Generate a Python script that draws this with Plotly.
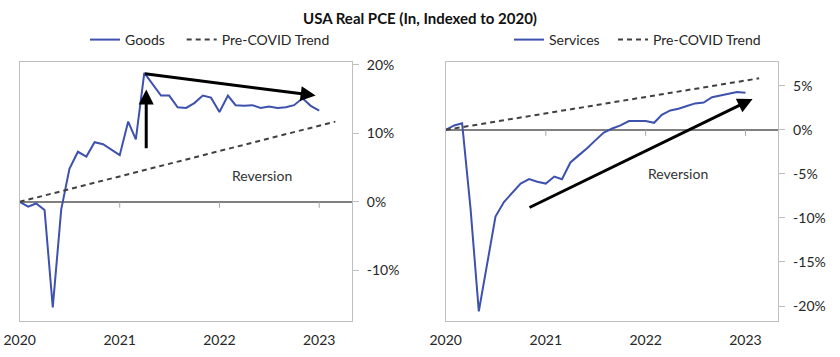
import plotly.graph_objects as go
import pandas as pd

# ---------------- data ----------------
months = pd.date_range("2020-01-01", "2023-01-01", freq="MS").strftime("%Y-%m-%d").tolist()

goods = [0, -0.7, -0.25, -1.2, -15.4, -1.1, 4.8, 7.3, 6.6, 8.7, 8.4, 7.6,
         6.8, 11.7, 9.1, 18.8, 17.2, 15.5, 15.5, 13.8, 13.7, 14.4, 15.5, 15.2,
         13.1, 15.5, 14.1, 14.0, 14.1, 13.7, 13.9, 13.7, 13.8, 14.1, 15.1, 14.0, 13.3]

services = [0, 0.5, 0.75, -9.0, -20.6, -15.2, -9.85, -8.2, -7.1, -6.1, -5.6, -5.9,
            -6.1, -5.3, -5.6, -3.7, -2.9, -2.1, -1.2, -0.3, 0.15, 0.5, 1.0, 1.0,
            1.0, 0.8, 1.7, 2.2, 2.4, 2.7, 3.0, 3.1, 3.7, 3.9, 4.1, 4.3, 4.2]

goods_trend_x = ["2020-01-01", "2023-03-01"]
goods_trend_y = [0, 11.7]
serv_trend_x = ["2020-01-01", "2023-02-20"]
serv_trend_y = [0, 5.85]

year_ticks = ["2020-01-01", "2021-01-01", "2022-01-01", "2023-01-01"]
year_labels = ["2020", "2021", "2022", "2023"]
goods_yticks = [-10, 0, 10, 20]
goods_ylabels = ["-10%", "0%", "10%", "20%"]
serv_yticks = [-20, -15, -10, -5, 0, 5]
serv_ylabels = ["-20%", "-15%", "-10%", "-5%", "0%", "5%"]

# arrows: (head_x, head_y, tail_x, tail_y)
goods_arrows = [("2021-04-08", 16.4, "2021-04-08", 7.6),
                ("2022-12-19", 15.5, "2021-03-29", 18.7)]
serv_arrows = [("2023-01-27", 3.5, "2020-10-28", -8.9)]
goods_label = ("2022-06-04", 3.9, "Reversion")
serv_label = ("2022-05-01", -4.9, "Reversion")

title = "USA Real PCE (In, Indexed to 2020)"

# ---------------- styling ----------------
FONT = "Lato"
BLUE = "#3d51ad"
DASH = "#404040"
FRAME = "#bfbfbf"
TXT = "#262626"

W, H = 840, 357


def px(sx):
    return sx / W


def py(sy):
    return 1 - sy / H


fig = go.Figure()

fig.add_trace(go.Scatter(x=months, y=goods, mode="lines", name="Goods",
                         line=dict(color=BLUE, width=2), xaxis="x", yaxis="y", legend="legend"))
fig.add_trace(go.Scatter(x=goods_trend_x, y=goods_trend_y, mode="lines", name="Pre-COVID Trend",
                         line=dict(color=DASH, width=2, dash="5px,4px"), xaxis="x", yaxis="y", legend="legend3"))
fig.add_trace(go.Scatter(x=months, y=services, mode="lines", name="Services",
                         line=dict(color=BLUE, width=2), xaxis="x2", yaxis="y2", legend="legend2"))
fig.add_trace(go.Scatter(x=serv_trend_x, y=serv_trend_y, mode="lines", name="Pre-COVID Trend",
                         line=dict(color=DASH, width=2, dash="5px,4px"), xaxis="x2", yaxis="y2", legend="legend4"))

ydom = [py(321), py(62)]

xcommon = dict(type="date", tickmode="array", tickvals=year_ticks, ticktext=year_labels,
               showline=True, linecolor=FRAME, linewidth=1, mirror=True, ticks="",
               showgrid=False, zeroline=False, tickfont=dict(family=FONT, size=14, color=TXT),
               range=["2020-01-01", "2023-05-01"], automargin=False, ticklabelstandoff=6,
               ticklabeloverflow="allow")
ycommon = dict(side="right", showline=True, linecolor=FRAME, linewidth=1, mirror=True,
               ticks="outside", ticklen=6, tickcolor=FRAME, showgrid=False,
               zeroline=True, zerolinecolor="#808080", zerolinewidth=2,
               tickfont=dict(family=FONT, size=14, color=TXT), ticklabelstandoff=5,
               automargin=False)


def leg(x):
    return dict(orientation="h", x=px(x), xanchor="left", y=py(40), yanchor="middle",
                font=dict(family=FONT, size=14, color=TXT), bgcolor="rgba(0,0,0,0)",
                itemwidth=30, tracegroupgap=0)


fig.update_layout(
    width=W, height=H, margin=dict(l=0, r=0, t=0, b=0, pad=0, autoexpand=False),
    paper_bgcolor="white", plot_bgcolor="white",
    font=dict(family=FONT, size=14, color=TXT),
    title=dict(text="<b>" + title + "</b>", x=px(420), xanchor="center", y=py(19), yanchor="middle",
               font=dict(family=FONT, size=15, color="#111111"), automargin=False),
    xaxis=dict(domain=[px(19.7), px(352)], anchor="y", **xcommon),
    yaxis=dict(domain=ydom, anchor="x", range=[-17.4, 20.4], tickmode="array",
               tickvals=goods_yticks, ticktext=goods_ylabels, **ycommon),
    xaxis2=dict(domain=[px(445.7), px(778.3)], anchor="y2", **xcommon),
    yaxis2=dict(domain=ydom, anchor="x2", range=[-21.7, 7.7], tickmode="array",
                tickvals=serv_yticks, ticktext=serv_ylabels, **ycommon),
    legend=leg(85), legend3=leg(181.7), legend2=leg(509), legend4=leg(613),
    showlegend=True,
)

# tick marks hanging from zero line
for xr, yr in (("x", "y"), ("x2", "y2")):
    for t in year_ticks[1:]:
        fig.add_shape(type="line", xref=xr, yref=yr, x0=t, x1=t, ysizemode="pixel", yanchor=0,
                      y0=0, y1=-6, line=dict(color="#a6a6a6", width=1))

# arrows
for xr, yr, arrows in (("x", "y", goods_arrows), ("x2", "y2", serv_arrows)):
    for hx, hy, tx, ty in arrows:
        fig.add_annotation(x=hx, y=hy, ax=tx, ay=ty, xref=xr, yref=yr, axref=xr, ayref=yr,
                           showarrow=True, arrowhead=2, arrowsize=1.0, arrowwidth=3,
                           arrowcolor="#000000", text="", standoff=0, startstandoff=0)

for xr, yr, (lx, ly, lt) in (("x", "y", goods_label), ("x2", "y2", serv_label)):
    fig.add_annotation(x=lx, y=ly, xref=xr, yref=yr, text=lt, showarrow=False,
                       font=dict(family=FONT, size=14, color="#333333"))

# remove the default 8px page margin so the figure fills the window exactly
fig.write_html("out.html", config={"displayModeBar": False},
               post_script="document.body.style.margin='0';")
